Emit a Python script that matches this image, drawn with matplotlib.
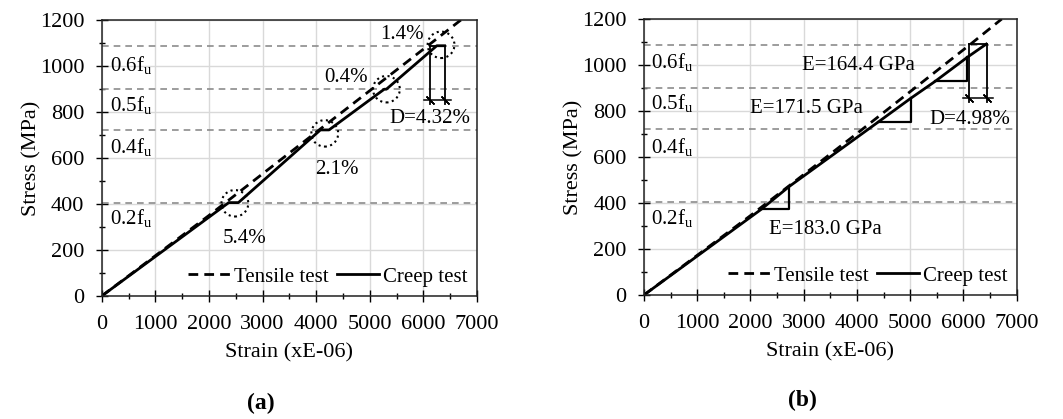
import matplotlib.pyplot as plt
from matplotlib.patches import Ellipse

plt.rcParams['font.family'] = ['Liberation Serif', 'DejaVu Serif']
plt.rcParams['mathtext.fontset'] = 'custom'
plt.rcParams['mathtext.rm'] = 'Liberation Serif'
plt.rcParams['mathtext.it'] = 'Liberation Serif:italic'
plt.rcParams['font.size'] = 15

# ======================
# DATA
# ======================
fu_levels = [406, 723, 899, 1089]
fu_labels = ['0.2f$_\\mathrm{u}$', '0.4f$_\\mathrm{u}$', '0.5f$_\\mathrm{u}$', '0.6f$_\\mathrm{u}$']

# panel (a)
tensile_a_x = [0, 2000, 4000, 6000, 6700]
tensile_a_y = [0, 350, 712, 1073, 1200]
creep_a_x = [0, 2370, 2550, 4080, 4240, 5270, 5310, 6250, 6395]
creep_a_y = [0, 406, 406, 722, 722, 899, 899, 1088, 1088]
circle_x = [2484, 4161, 5311, 6330]
circle_y = [403, 707, 899, 1092]
creep_pct = ['5.4%', '2.1%', '0.4%', '1.4%']
dim_a = (6115, 6395, 1088, 852)   # left, right, top, dimension line
dim_a_label = 'D=4.32%'

# panel (b)
tensile_b_x = [0, 2000, 4000, 6137, 6720]
tensile_b_y = [0, 345, 702, 1091, 1200]
creep_b_x = [0, 2200, 2724, 4400, 5010, 5470, 6070, 6430]
creep_b_y = [0, 372, 471, 752, 855, 929, 1033, 1091]
tri_x0 = [2200, 4400, 5470]
tri_x1 = [2724, 5010, 6070]
tri_y0 = [372, 752, 929]
tri_y1 = [471, 855, 1033]
modulus_labels = ['E=183.0 GPa', 'E=171.5 GPa', 'E=164.4 GPa']
dim_b = (6106, 6437, 1091, 855)
dim_b_label = 'D=4.98%'

# ======================
# LABEL POSITIONS
# ======================
fu_text_a = [(150, 338), (150, 649), (150, 830), (150, 1004)]
fu_text_b = [(125, 333), (125, 645), (125, 833), (125, 1014)]
pct_text = [(2671, 251), (4379, 548), (4565, 949), (5600, 1138)]
mod_text = [(3400, 285), (3056, 812), (4026, 997)]


def setup(ax):
    ax.set_xlim(0, 7000)
    ax.set_ylim(0, 1200)
    ax.set_xticks(range(0, 7001, 1000))
    ax.set_xticks(range(500, 7000, 1000), minor=True)
    ax.set_yticks(range(0, 1201, 200))
    ax.set_yticks(range(100, 1200, 200), minor=True)
    ax.grid(True, which='major', color='#d9d9d9', lw=1)
    ax.set_axisbelow(True)
    ax.tick_params(which='major', direction='inout', length=9, width=1, labelsize=16)
    ax.tick_params(axis='x', which='major', pad=9)
    ax.tick_params(axis='y', which='major', pad=8)
    ax.tick_params(which='minor', direction='inout', length=5, width=1)
    for s in ax.spines.values():
        s.set_color('#222222')
        s.set_linewidth(1.1)
    ax.set_xlabel('Strain (xE-06)', fontsize=16, labelpad=7)
    ax.set_ylabel('Stress (MPa)', fontsize=16, labelpad=-1)
    for lvl in fu_levels:
        ax.axhline(lvl, color='#8c8c8c', ls=(0, (4, 3)), lw=1.2, zorder=1)


def dimension(ax, d, label, pos):
    x1, x2, top, bot = d
    ax.plot([x1, x1], [top, bot - 18], color='black', lw=1.3)
    ax.plot([x2, x2], [top, bot - 18], color='black', lw=1.3)
    ax.plot([x1, x2], [top, top], color='black', lw=1.3)
    ax.plot([x1 - 110, x2 + 125], [bot, bot], color='black', lw=1.1)
    ax.plot([x1, x2], [bot, bot], ls='none', marker=(2, 2, 45), ms=8, mec='black', mew=1)
    ax.text(pos[0], pos[1], label, ha='center', va='center', fontsize=15)


fig = plt.figure(figsize=(10.63, 4.19), dpi=100)
ax1 = fig.add_axes([0.0957, 0.2936, 0.3530, 0.6587])
ax2 = fig.add_axes([0.6058, 0.2960, 0.3506, 0.6587])

# ======================
# PANEL (a)
# ======================
setup(ax1)
ax1.plot(tensile_a_x, tensile_a_y, color='black', lw=2, ls=(0, (3.5, 2.2)), label='Tensile test')
ax1.plot(creep_a_x, creep_a_y, color='black', lw=2, label='Creep test')
for cx, cy in zip(circle_x, circle_y):
    ax1.add_patch(Ellipse((cx, cy), 500, 115, fill=False, ls=':', lw=1.5, ec='black'))
for t, (px, py) in zip(creep_pct, pct_text):
    ax1.text(px, py, t, ha='center', va='center', fontsize=15)
for t, (px, py) in zip(fu_labels, fu_text_a):
    ax1.text(px, py, t, ha='left', va='center', fontsize=15)
dimension(ax1, dim_a, dim_a_label, (6118, 772))
ax1.legend(loc='lower right', ncol=2, frameon=False, handlelength=2.0, handletextpad=0.2,
           columnspacing=0.4, borderaxespad=0.05, fontsize=15)

# ======================
# PANEL (b)
# ======================
setup(ax2)
ax2.plot(tensile_b_x, tensile_b_y, color='black', lw=2, ls=(0, (3.5, 2.2)), label='Tensile test')
ax2.plot(creep_b_x, creep_b_y, color='black', lw=2, label='Creep test')
for x0, x1, y0, y1 in zip(tri_x0, tri_x1, tri_y0, tri_y1):
    ax2.plot([x0, x1, x1], [y0, y0, y1], color='black', lw=1.6)
for t, (px, py) in zip(modulus_labels, mod_text):
    ax2.text(px, py, t, ha='center', va='center', fontsize=15)
for t, (px, py) in zip(fu_labels, fu_text_b):
    ax2.text(px, py, t, ha='left', va='center', fontsize=15)
dimension(ax2, dim_b, dim_b_label, (6124, 764))
ax2.legend(loc='lower right', ncol=2, frameon=False, handlelength=2.0, handletextpad=0.2,
           columnspacing=0.4, borderaxespad=0.05, fontsize=15)

fig.text(261 / 1063, 1 - 403 / 419, '(a)', ha='center', va='center', fontsize=17, fontweight='bold')
fig.text(802 / 1063, 1 - 400 / 419, '(b)', ha='center', va='center', fontsize=17, fontweight='bold')

fig.savefig('out.png', dpi=100)
